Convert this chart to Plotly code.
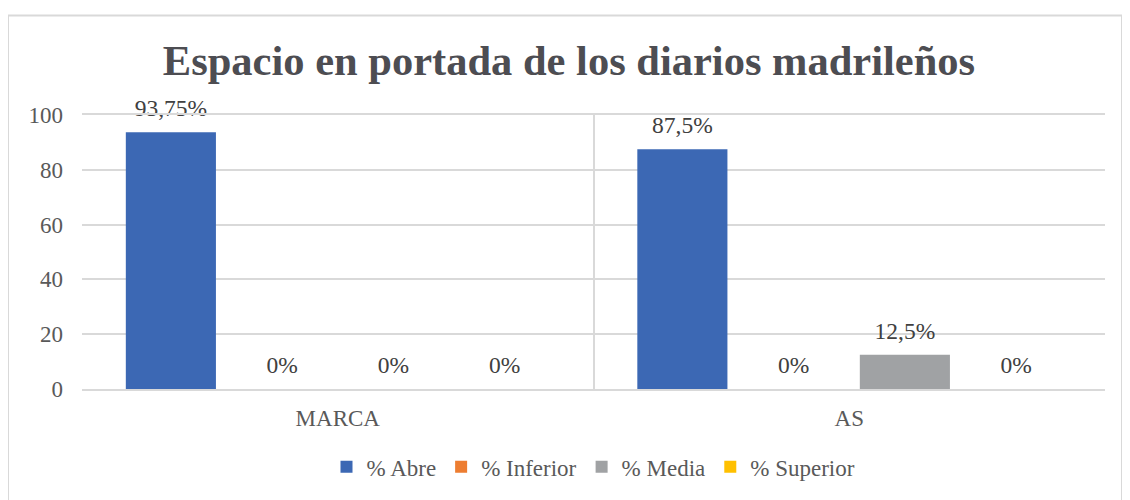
import plotly.graph_objects as go

categories = ["MARCA", "AS"]
series_names = ["% Abre", "% Inferior", "% Media", "% Superior"]
abre = [93.75, 87.5]
inferior = [0, 0]
media = [0, 12.5]
superior = [0, 0]
labels_abre = ["93,75%", "87,5%"]
labels_inferior = ["0%", "0%"]
labels_media = ["0%", "12,5%"]
labels_superior = ["0%", "0%"]
y_ticks = [0, 20, 40, 60, 80, 100]

colors = ["#3C68B4", "#ED7D31", "#A0A2A4", "#FFC000"]
values = [abre, inferior, media, superior]
texts = [labels_abre, labels_inferior, labels_media, labels_superior]

font_family = "Liberation Serif, Times New Roman, serif"

fig = go.Figure()
for i, (name, vals, col) in enumerate(zip(series_names, values, colors)):
    fig.add_trace(go.Bar(
        x=categories, y=vals, name=name, marker_color=col,
        marker_line_width=0, offsetgroup=str(i),
    ))
for i, (vals, txt) in enumerate(zip(values, texts)):
    fig.add_trace(go.Scatter(
        x=categories, y=vals, text=txt, mode="markers+text",
        textposition="top center", offsetgroup=str(i), showlegend=False,
        marker=dict(size=15, opacity=0), cliponaxis=False, hoverinfo="skip",
        textfont=dict(family=font_family, size=23.5, color="#404040"),
    ))

W, H = 1122, 492
ml, mr, mt, mb = 74, 25, 107, 107
pw, ph = W - ml - mr, H - mt - mb

fig.update_layout(
    width=W, height=H,
    margin=dict(l=ml, r=mr, t=mt, b=mb),
    paper_bgcolor="white", plot_bgcolor="white",
    barmode="group", bargap=0.13, bargroupgap=0.19,
    scattermode="group", scattergap=0.13,
    title=dict(text="<b>Espacio en portada de los diarios madrileños</b>",
               x=0.5, xanchor="center", y=0.894, yanchor="middle",
               font=dict(family=font_family, size=42.5, color="#4D4D52")),
    font=dict(family=font_family, size=23, color="#595959"),
    showlegend=True,
    legend=dict(orientation="h", x=0.5, xanchor="center", y=-0.284, yanchor="middle",
                font=dict(family=font_family, size=23, color="#595959"),
                itemwidth=30, traceorder="normal"),
    xaxis=dict(type="category", tickson="boundaries", showgrid=True,
               gridcolor="#D9D9D9", gridwidth=2, ticks="", showline=True,
               linecolor="#D9D9D9", linewidth=2, mirror=True,
               ticklabelstandoff=7,
               tickfont=dict(family=font_family, size=23, color="#595959")),
    yaxis=dict(range=[0, 100], tickvals=y_ticks, showgrid=True,
               gridcolor="#D9D9D9", gridwidth=2, zeroline=False,
               showline=False, ticks="", ticklabelstandoff=18,
               tickfont=dict(family=font_family, size=23, color="#595959")),
    shapes=[dict(type="rect", xref="paper", yref="paper",
                 x0=(0 - ml) / pw, x1=(1114 - ml) / pw,
                 y0=(H - mb - 510) / ph, y1=(H - mb - 6) / ph,
                 line=dict(color="#D9D9D9", width=2), layer="below")],
)

fig.write_html("out.html")
